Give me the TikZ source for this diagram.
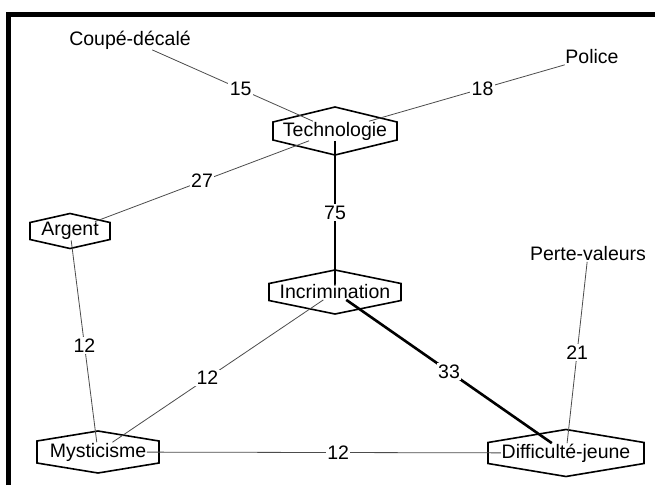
\documentclass[tikz,border=0pt]{standalone}
\usepackage{fontspec}
\setmainfont{Liberation Sans}
\usetikzlibrary{calc}
\tikzset{
  lbl/.style={inner sep=0.5pt, font=\fontsize{19.5}{23}\selectfont},
  hexline/.style={line width=1.6pt, line join=miter, draw=black},
  thinedge/.style={line width=0.8pt, draw=black!70},
  thickedge/.style={line width=2.6pt, draw=black},
  wt/.style={fill=white, inner sep=1.5pt, font=\fontsize{19.5}{23}\selectfont, pos=0.5},
}
\newcommand\hexaround[4]{%
  \draw[hexline] ($(#1)+(-#2,-#3)$) -- ($(#1)+(-#2,#3)$) -- ($(#1)+(0,#3+#4)$)
    -- ($(#1)+(#2,#3)$) -- ($(#1)+(#2,-#3)$) -- ($(#1)+(0,-#3-#4)$) -- cycle;}
\begin{document}
\begin{tikzpicture}[x=1pt,y=-1pt]
\useasboundingbox (0,0) rectangle (655,485);
\fill[white] (0,0) rectangle (655,485);
% frame
\draw[line width=5pt, line join=miter] (8,485) -- (8,14) -- (655,14);

% nodes
\node[lbl] (tech) at (335,131) {Technologie};
\node[lbl] (arg) at (70,231) {Argent};
\node[lbl] (inc) at (335,292) {Incrimination};
\node[lbl] (myst) at (98,452) {Mysticisme};
\node[lbl] (diff) at (566,453) {Difficulté-jeune};
\node[lbl] (coupe) at (130,40) {Coupé-décalé};
\node[lbl] (police) at (592,57) {Police};
\node[lbl] (perte) at (588,254) {Perte-valeurs};

% hexagons
\hexaround{tech}{62}{9}{15}
\hexaround{arg}{40}{8.5}{9}
\hexaround{inc}{66}{8.5}{13.5}
\hexaround{myst}{61}{11}{10}
\hexaround{diff}{78}{10.5}{13}

% edges
\draw[thinedge] (coupe) -- node[wt, pos=0.55] {15} (tech);
\draw[thinedge] (police) -- node[wt, pos=0.42] {18} (tech);
\draw[thinedge] (tech) -- node[wt] {27} (arg);
\draw[thickedge] (tech) -- node[wt] {75} (inc);
\draw[thinedge] (arg) -- node[wt, pos=0.52] {12} (myst);
\draw[thinedge] (inc) -- node[wt, pos=0.55] {12} (myst);
\draw[thickedge] (inc) -- node[wt] {33} (diff);
\draw[thinedge] (perte) -- node[wt] {21} (diff);
\draw[thinedge] (myst) -- node[wt, pos=0.54] {12} (diff);
\end{tikzpicture}
\end{document}
